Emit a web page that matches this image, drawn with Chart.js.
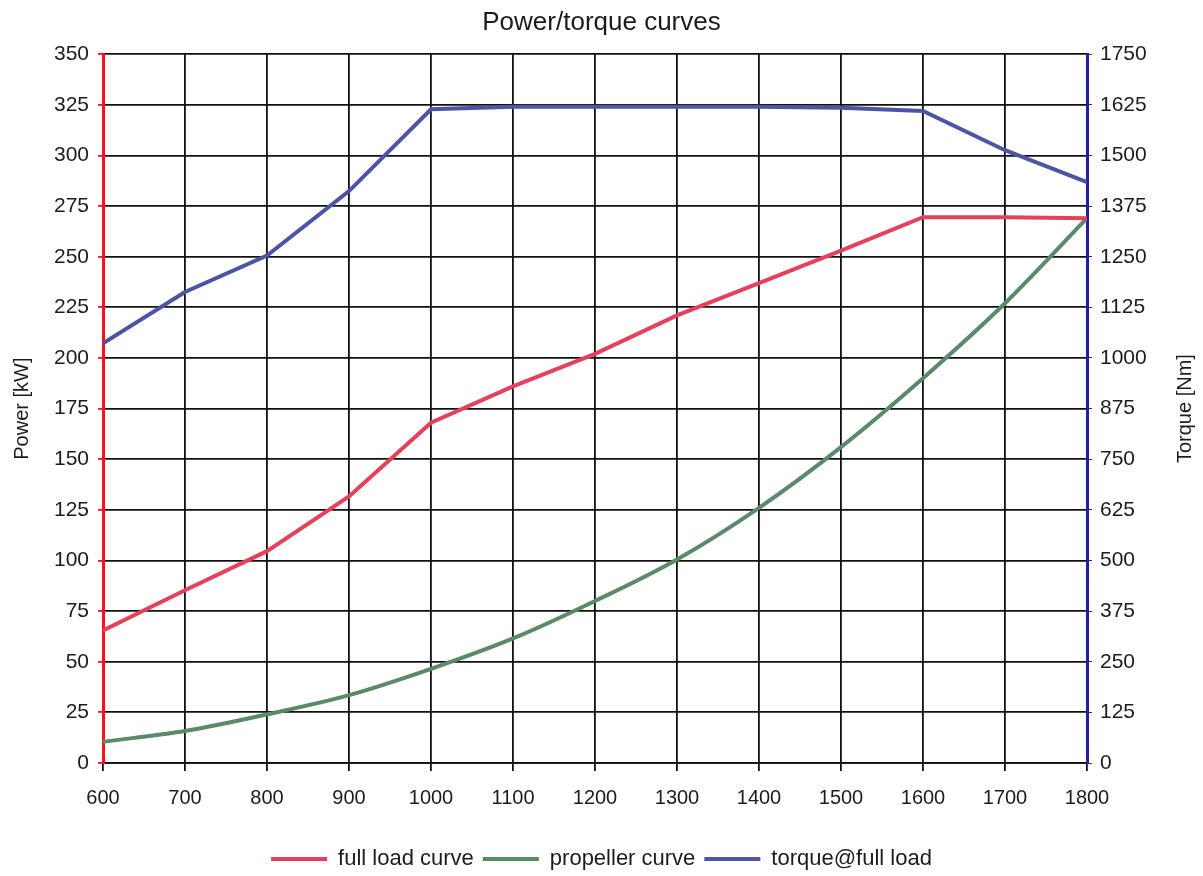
<!DOCTYPE html>
<html>
<head>
<meta charset="utf-8">
<script src="https://cdn.jsdelivr.net/npm/chart.js@4.4.1/dist/chart.umd.min.js"></script>
<style>
  html, body { margin: 0; padding: 0; background: #fff; }
  #wrap { width: 1203px; height: 876px; }
</style>
</head>
<body>
<div id="wrap"><canvas id="chart"></canvas></div>
<script>
// engine speed [rpm]
const RPM = [600, 700, 800, 900, 1000, 1100, 1200, 1300, 1400, 1500, 1600, 1700, 1800];
// power [kW]
const FULL_LOAD = [65.5, 85.3, 104.6, 131.6, 168, 186, 202, 221, 237, 253, 269.5, 269.5, 269];
const PROPELLER = [10.5, 15.8, 24, 33.5, 46.5, 61.5, 80, 100.5, 126, 156, 190, 227, 269];
// torque [Nm]
const TORQUE = [1036, 1163, 1253, 1412, 1614, 1620, 1620, 1620, 1620, 1618, 1610, 1513, 1434];

const FONT = '"Liberation Sans", Arial, sans-serif';
const TEXT = '#1c1c1c';

function pts(arr) {
  return RPM.map((r, i) => ({ x: r, y: arr[i] }));
}

// right axis title reads bottom-to-top in the original, so draw it ourselves
const rightTitle = {
  id: 'rightTitle',
  afterDraw(chart) {
    const { ctx, chartArea } = chart;
    ctx.save();
    ctx.translate(1185, (chartArea.top + chartArea.bottom) / 2);
    ctx.rotate(-Math.PI / 2);
    ctx.font = '20px ' + FONT;
    ctx.fillStyle = TEXT;
    ctx.textAlign = 'center';
    ctx.textBaseline = 'middle';
    ctx.fillText('Torque [Nm]', 0, 0);
    ctx.restore();
  }
};

const plain = v => String(v);

new Chart(document.getElementById('chart'), {
  type: 'line',
  data: {
    datasets: [
      {
        label: 'full load curve',
        data: pts(FULL_LOAD),
        borderColor: '#e5415b',
        backgroundColor: '#e5415b',
        borderWidth: 4,
        pointRadius: 0,
        tension: 0,
        yAxisID: 'y'
      },
      {
        label: 'propeller curve',
        data: pts(PROPELLER),
        borderColor: '#5a8a68',
        backgroundColor: '#5a8a68',
        borderWidth: 4,
        pointRadius: 0,
        cubicInterpolationMode: 'monotone',
        yAxisID: 'y'
      },
      {
        label: 'torque@full load',
        data: pts(TORQUE),
        borderColor: '#4b55a3',
        backgroundColor: '#4b55a3',
        borderWidth: 4,
        pointRadius: 0,
        tension: 0,
        yAxisID: 'y1'
      }
    ]
  },
  options: {
    responsive: true,
    maintainAspectRatio: false,
    animation: false,
    // small negative bottom padding lets the legend sit lower, as in the original
    layout: { padding: { top: 0, right: 0, bottom: -4, left: 0 } },
    plugins: {
      title: {
        display: true,
        text: 'Power/torque curves',
        color: TEXT,
        font: { family: FONT, size: 26, weight: 'normal' },
        padding: { top: 7, bottom: 16 }
      },
      legend: {
        position: 'bottom',
        labels: {
          color: TEXT,
          font: { family: FONT, size: 22 },
          usePointStyle: true,
          pointStyle: 'line',
          pointStyleWidth: 56,
          boxHeight: 22,
          padding: 9
        }
      },
      tooltip: { enabled: false }
    },
    scales: {
      x: {
        type: 'linear',
        min: 600,
        max: 1800,
        ticks: {
          stepSize: 100,
          color: TEXT,
          font: { family: FONT, size: 20 },
          padding: 15,
          callback: plain
        },
        grid: { color: '#111', lineWidth: 1.8, tickLength: 8, tickColor: '#111' },
        border: { color: '#111', width: 1.8 },
        afterFit: s => { s.height = 76; }
      },
      y: {
        position: 'left',
        min: 0,
        max: 350,
        ticks: {
          stepSize: 25,
          color: TEXT,
          font: { family: FONT, size: 21 },
          padding: 9,
          callback: plain
        },
        grid: { color: '#111', lineWidth: 1.8, tickLength: 5, tickColor: '#ff1030' },
        border: { color: '#ff1020', width: 3 },
        title: {
          display: true,
          text: 'Power [kW]',
          color: TEXT,
          font: { family: FONT, size: 20 },
          padding: { top: 10, bottom: 0 }
        },
        afterFit: s => { s.width = 103; }
      },
      y1: {
        position: 'right',
        min: 0,
        max: 1750,
        ticks: {
          stepSize: 125,
          color: TEXT,
          font: { family: FONT, size: 21 },
          padding: 8,
          callback: plain
        },
        grid: { drawOnChartArea: false, tickLength: 5, tickColor: '#2a2aa8' },
        border: { color: '#2020a0', width: 3 },
        afterFit: s => { s.width = 116; }
      }
    }
  },
  plugins: [rightTitle]
});
</script>
</body>
</html>
